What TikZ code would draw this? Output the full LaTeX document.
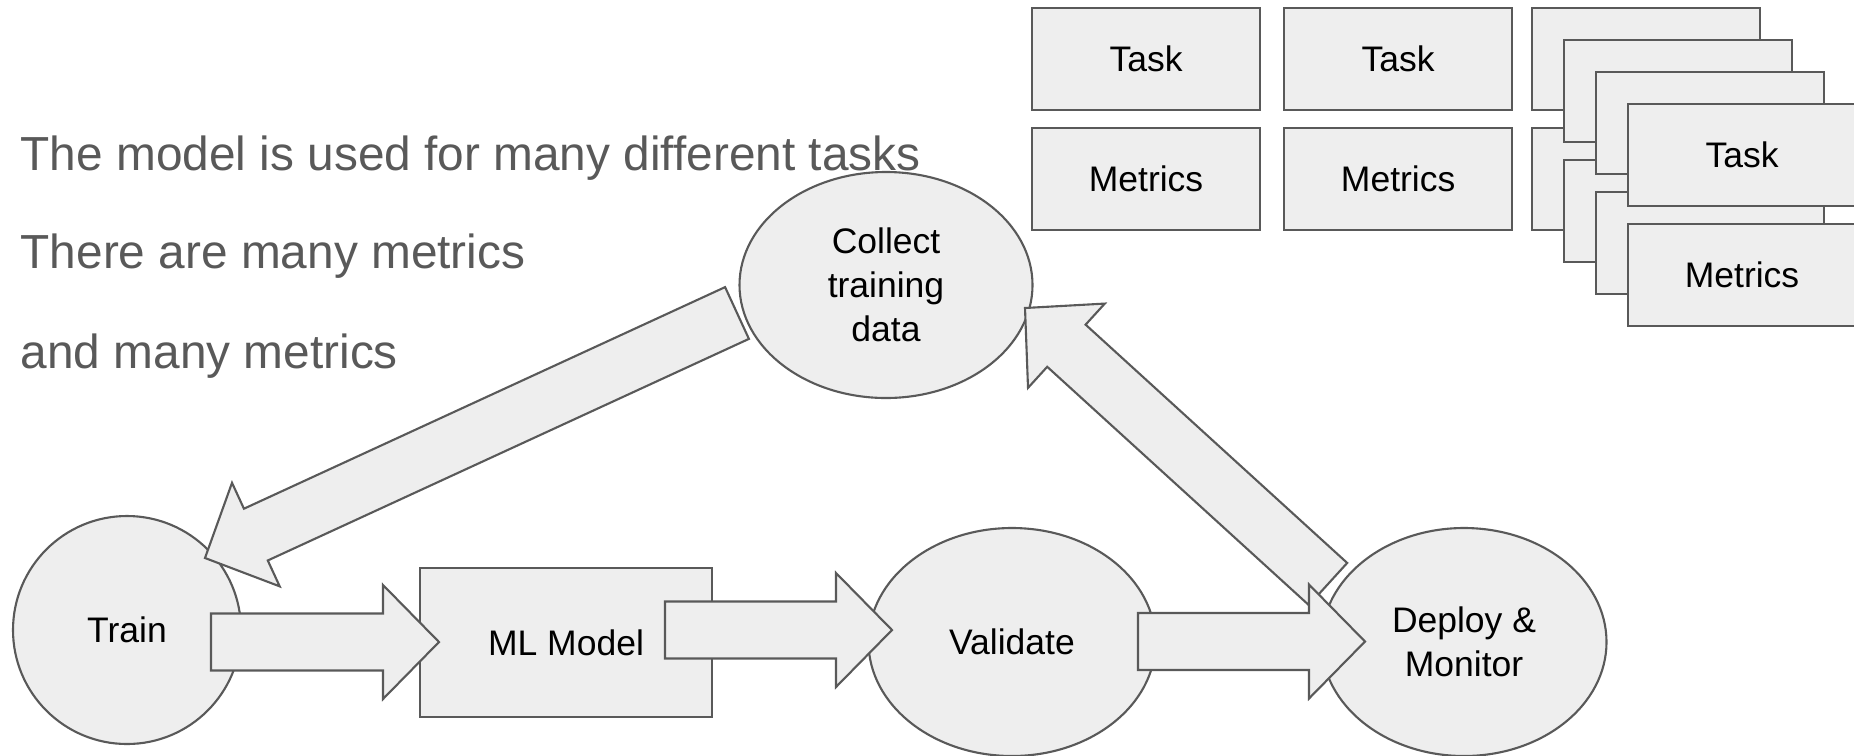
\documentclass[tikz,border=0pt]{standalone}
\usepackage{fontspec}
\setmainfont{Liberation Sans}
\usetikzlibrary{positioning}
\usetikzlibrary{calc}
\usetikzlibrary{shapes.geometric}
\definecolor{inkgrey}{HTML}{595959}
\definecolor{paper}{HTML}{EEEEEE}
\tikzset{
  blob/.style={ellipse, draw=inkgrey, fill=paper, line width=0.6pt, inner sep=0pt,
    align=center, font=\fontsize{10.1}{12.5}\selectfont},
  card/.style={rectangle, draw=inkgrey, fill=paper, line width=0.6pt, inner sep=0pt,
    minimum width=2.28cm, minimum height=1.02cm, font=\fontsize{10.1}{12.5}\selectfont},
  blockarr/.style={draw=inkgrey, fill=paper, line width=0.6pt, line join=miter},
  note/.style={anchor=base west, inner sep=0pt, text=inkgrey,
    font=\fontsize{13.6}{16}\selectfont}
}

\begin{document}
\begin{tikzpicture}
      \newcommand{\ArrShaft}{0.285cm}
      \newcommand{\ArrHead}{0.57cm}
      \newcommand{\ArrHeadLen}{0.56cm}
      \newcommand{\BlockArrow}[3]{%
        \coordinate (#3) at ($(#2)!\ArrHeadLen!(#1)$);
        \draw[blockarr] ($(#1)!\ArrShaft!90:(#2)$) -- ($(#3)!\ArrShaft!90:(#2)$)
          -- ($(#3)!\ArrHead!90:(#2)$) -- (#2)
          -- ($(#3)!\ArrHead!-90:(#2)$) -- ($(#3)!\ArrShaft!-90:(#2)$)
          -- ($(#1)!\ArrShaft!-90:(#2)$) -- cycle;}
      \useasboundingbox (0,0) rectangle (18.54,7.55);
      \node[note] (line1) at (0.20,5.85) {The model is used for many different tasks};
      \node[note] (line2) at (0.20,4.87) {There are many metrics};
      \node[note] (line3) at (0.20,3.87) {and many metrics};
      \node[card] (task1) at (11.46,6.96) {Task};% first column
      \node[card, below=0.16cm of task1] (metrics1) {Metrics};
      \node[card, right=0.22cm of task1] (task2) {Task};% second column
      \node[card, below=0.16cm of task2] (metrics2) {Metrics};
      \foreach \k in {0,1,2} {% stacked cards behind
        \node[card] (stack\k) at (16.46+0.32*\k, 6.96-0.32*\k) {};
        \node[card, below=0.16cm of stack\k] (stackm\k) {};
      }
      \node[card] (task3) at (17.42,6.00) {Task};% front of the stack
      \node[card, below=0.16cm of task3] (metrics3) {Metrics};
      \node[blob, minimum width=2.28cm, minimum height=2.28cm] (train) at (1.27,1.25) {Train};
      \node[card, minimum width=2.92cm, minimum height=1.49cm] (model) at (5.66,1.125) {ML Model};
      \node[blob, minimum width=2.87cm, minimum height=2.28cm] (validate) at (10.12,1.13) {Validate};
      \node[blob, minimum width=2.85cm, minimum height=2.28cm] (deploy) at (14.64,1.13) {Deploy \&\\Monitor};
      \node[blob, minimum width=2.93cm, minimum height=2.26cm] (collect) at (8.86,4.70) {Collect\\training\\data};
      \coordinate (collect-out) at (7.37,4.42);
      \coordinate (train-in) at (2.05,1.97);
      \coordinate (train-out) at (2.11,1.13);
      \coordinate (model-in) at (4.39,1.13);
      \coordinate (model-out) at (6.65,1.25);
      \coordinate (validate-in) at (8.92,1.25);
      \coordinate (validate-out) at (11.38,1.135);
      \coordinate (deploy-in) at (13.65,1.135);
      \coordinate (deploy-out) at (13.28,1.71);
      \coordinate (collect-in) at (10.25,4.47);
      \BlockArrow{collect-out}{train-in}{b1}% back to training
      \BlockArrow{train-out}{model-in}{b2}
      \BlockArrow{model-out}{validate-in}{b3}
      \BlockArrow{deploy-out}{collect-in}{b5}% new data
      \BlockArrow{validate-out}{deploy-in}{b4}
    \end{tikzpicture}
\end{document}
